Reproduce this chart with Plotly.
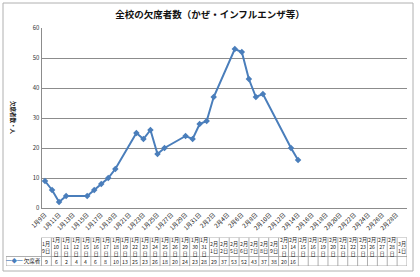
import plotly.graph_objects as go
from datetime import date

# ---- data ----
dates = ["2018-01-09", "2018-01-10", "2018-01-11", "2018-01-12", "2018-01-15", "2018-01-16",
         "2018-01-17", "2018-01-18", "2018-01-19", "2018-01-22", "2018-01-23", "2018-01-24",
         "2018-01-25", "2018-01-26", "2018-01-29", "2018-01-30", "2018-01-31", "2018-02-01",
         "2018-02-02", "2018-02-05", "2018-02-06", "2018-02-07", "2018-02-08", "2018-02-09",
         "2018-02-13", "2018-02-14", "2018-02-15", "2018-02-16", "2018-02-19", "2018-02-20",
         "2018-02-21", "2018-02-22", "2018-02-23", "2018-02-26", "2018-02-27", "2018-02-28",
         "2018-03-01"]
absent = [9, 6, 2, 4, 4, 6, 8, 10, 13, 25, 23, 26, 18, 20, 24, 23, 28, 29, 37, 53, 52, 43,
          37, 38, 20, 16, None, None, None, None, None, None, None, None, None, None, None]
series_name = "欠席者"
title_text = "全校の欠席者数（かぜ・インフルエンザ等）"
y_title = "欠席者数・人"

LINE_COLOR = "#4a7ebb"
GRID = "#8c8c8c"
TBL = "#9a9a9a"
FONT = "Noto Sans CJK JP"

# ---- geometry (px) ----
W, H = 420, 277
ML, MR, MT, MB = 6, 13, 28, 11
PW, PH = W - ML - MR, H - MT - MB
PLOT_LEFT, PLOT_BOTTOM = 41.5, 208
TABLE_TOP = 237.5
LEG_W = 35.5
HDR_H, ROW_H = 19.0, 9.5


def header_label(s):
    d = date.fromisoformat(s)
    if d.day < 10:
        return f"{d.month}月<br>{d.day}日"
    return f"{d.month}月<br>{d.day}<br>日"


headers = [header_label(s) for s in dates]
cell_texts = ["" if v is None else str(v) for v in absent]
ncol = len(dates)
col_w = (PW - LEG_W) / ncol
leg_cols = LEG_W / col_w
x2_lo = -0.5 - leg_cols

fig = go.Figure()
fig.add_trace(go.Scatter(
    x=dates, y=absent, mode="lines+markers", name=series_name,
    line=dict(color=LINE_COLOR, width=2),
    marker=dict(symbol="diamond", size=5, color=LINE_COLOR),
    connectgaps=False, showlegend=False, xaxis="x", yaxis="y",
))
# invisible carrier trace for the table subplot
fig.add_trace(go.Scatter(x=[None], y=[None], xaxis="x2", yaxis="y2", showlegend=False,
                         hoverinfo="skip"))

shapes = []
tbl_h = HDR_H + ROW_H
for yv, x0 in [(tbl_h, -0.5), (ROW_H, x2_lo), (0, x2_lo)]:
    shapes.append(dict(type="line", xref="x2", yref="y2", x0=x0, x1=ncol - 0.5, y0=yv, y1=yv,
                       line=dict(color=TBL, width=0.8)))
for i in range(ncol + 1):
    shapes.append(dict(type="line", xref="x2", yref="y2", x0=i - 0.5, x1=i - 0.5, y0=0, y1=tbl_h,
                       line=dict(color=TBL, width=0.8)))
shapes.append(dict(type="line", xref="x2", yref="y2", x0=x2_lo, x1=x2_lo, y0=0, y1=ROW_H,
                   line=dict(color=TBL, width=0.8)))
shapes.append(dict(type="rect", xref="paper", yref="paper",
                   x0=(3 - ML) / PW, x1=(413 - ML) / PW,
                   y0=(H - MB - 271) / PH, y1=(H - MB - 3) / PH,
                   line=dict(color="#b0b0b0", width=1), fillcolor="rgba(0,0,0,0)", layer="below"))

annotations = []
for i, (h, t) in enumerate(zip(headers, cell_texts)):
    annotations.append(dict(text=h, xref="x2", yref="y2", x=i, y=ROW_H + HDR_H / 2,
                            showarrow=False, xanchor="center", yanchor="middle",
                            font=dict(size=5.2, color="#222", family=FONT)))
    if t:
        annotations.append(dict(text=t, xref="x2", yref="y2", x=i, y=ROW_H / 2,
                                showarrow=False, xanchor="center", yanchor="middle",
                                font=dict(size=5.2, color="#222", family=FONT)))
annotations.append(dict(
    text=f"<span style='color:{LINE_COLOR}'>━◆━</span> {series_name}",
    xref="x2", yref="y2", x=x2_lo + leg_cols / 2, y=ROW_H / 2,
    showarrow=False, xanchor="center", yanchor="middle",
    font=dict(size=5.5, color="#222", family=FONT)))
annotations.append(dict(
    text=f"<b>{y_title}</b>", textangle=90,
    xref="paper", yref="paper",
    x=(13 - ML) / PW, y=(H - MB - 118) / PH,
    xanchor="center", yanchor="middle", showarrow=False,
    font=dict(size=5.5, color="#222", family=FONT)))

fig.update_layout(
    width=W, height=H,
    margin=dict(l=ML, r=MR, t=MT, b=MB, autoexpand=False),
    paper_bgcolor="white", plot_bgcolor="white",
    font=dict(family=FONT, color="#222"),
    showlegend=False,
    title=dict(text=f"<b>{title_text}</b>", x=0.5, xref="container", xanchor="center",
               y=1 - 15 / H, yref="container", yanchor="middle",
               font=dict(size=9.5, color="#111", family=FONT)),
    xaxis=dict(
        domain=[(PLOT_LEFT - ML) / PW, 1],
        anchor="y",
        type="date",
        range=["2018-01-08 12:00", "2018-03-01 12:00"],
        tick0="2018-01-09", dtick=2 * 86400000,
        tickformat="%-m月%-d日",
        tickangle=-45,
        tickfont=dict(size=6, color="#111", family=FONT),
        showgrid=False, showline=True, linecolor=GRID, linewidth=1,
        ticks="", zeroline=False, automargin=False,
    ),
    yaxis=dict(
        domain=[(H - MB - PLOT_BOTTOM) / PH, 1],
        anchor="x",
        range=[0, 60], dtick=10,
        showgrid=True, gridcolor=GRID, gridwidth=1,
        showline=True, linecolor=GRID, linewidth=1,
        tickfont=dict(size=6, color="#333", family=FONT),
        zeroline=False, ticks="", automargin=False,
    ),
    xaxis2=dict(domain=[0, 1], anchor="y2", range=[x2_lo, ncol - 0.5], visible=False,
                automargin=False),
    yaxis2=dict(domain=[0, (H - MB - TABLE_TOP) / PH], anchor="x2", range=[0, tbl_h],
                visible=False, automargin=False),
    annotations=annotations,
    shapes=shapes,
)

fig.write_html("out.html")
